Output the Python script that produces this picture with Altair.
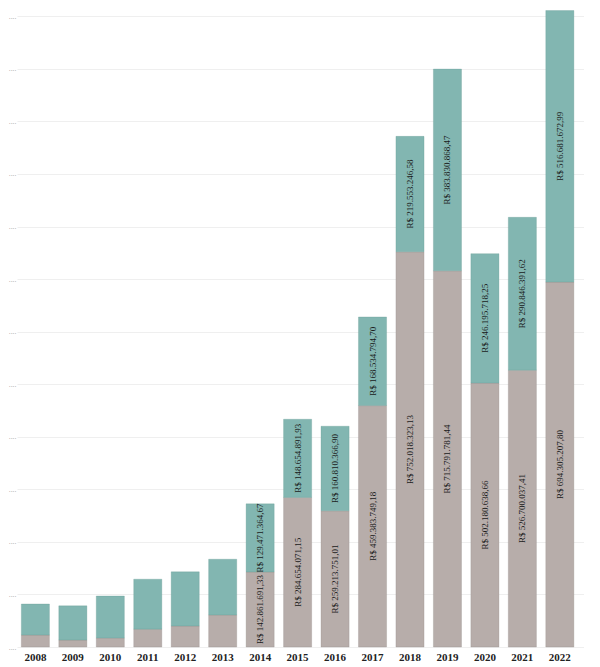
import altair as alt
import pandas as pd

years = ["2008", "2009", "2010", "2011", "2012", "2013", "2014", "2015",
         "2016", "2017", "2018", "2019", "2020", "2021", "2022"]
# bottom (gray) segment, R$
base_values = [22.8e6, 13.3e6, 17.0e6, 34.0e6, 40.0e6, 61.0e6,
               142861691.33, 284654071.15, 259213751.01, 459383749.18,
               752018323.13, 715791781.44, 502180638.66, 526700037.41,
               694305207.80]
# top (teal) segment, R$
top_values = [59.0e6, 65.0e6, 80.0e6, 95.0e6, 103.0e6, 106.0e6,
              129471364.67, 148654891.93, 160810366.90, 168534794.70,
              219553246.58, 383830868.47, 246195718.25, 290846391.62,
              516681672.99]
# which years carry value labels
labelled = [False] * 6 + [True] * 9
y_ticks = [i * 100e6 for i in range(13)]


def brl(v):
    s = f"{v:,.2f}"
    s = s.replace(",", "X").replace(".", ",").replace("X", ".")
    return "R$ " + s


rows = []
for yr, b, t, lab in zip(years, base_values, top_values, labelled):
    rows.append({"year": yr, "seg": "base", "start": 0.0, "end": b,
                 "mid": b / 2, "label": brl(b) if lab else ""})
    rows.append({"year": yr, "seg": "top", "start": b, "end": b + t,
                 "mid": b + t / 2, "label": brl(t) if lab else ""})
df = pd.DataFrame(rows)

x_scale = alt.Scale(paddingInner=0.25, paddingOuter=0.193, align=0.3)
y_scale = alt.Scale(domain=[0, 1212e6], nice=False, zero=True)

x_axis = alt.Axis(labelAngle=0, ticks=False, domain=False, grid=False,
                  labelFont="Liberation Serif", labelFontWeight="bold",
                  labelFontSize=11, labelColor="#222222", labelPadding=4)
y_axis = alt.Axis(values=y_ticks, labelExpr="'....'", labelFontSize=7,
                  labelColor="#9a9a9a", labelPadding=1, ticks=False,
                  domain=False, gridColor="#efefef", gridWidth=1)

bars = alt.Chart(df).mark_bar(strokeWidth=0.8, strokeOpacity=0.35).encode(
    x=alt.X("year:N", sort=years, title=None, scale=x_scale, axis=x_axis),
    y=alt.Y("start:Q", title=None, scale=y_scale, axis=y_axis),
    y2="end:Q",
    color=alt.Color("seg:N", legend=None,
                    scale=alt.Scale(domain=["base", "top"],
                                    range=["#b7adaa", "#82b6b1"])),
    stroke=alt.Stroke("seg:N", legend=None,
                      scale=alt.Scale(domain=["base", "top"],
                                      range=["#8f8582", "#5e948f"])),
)

labels = alt.Chart(df).mark_text(angle=270, align="center", baseline="middle",
                                 font="Liberation Serif", fontSize=9,
                                 color="#1a1a1a").encode(
    x=alt.X("year:N", sort=years, title=None, scale=x_scale, axis=x_axis),
    y=alt.Y("mid:Q", title=None, scale=y_scale, axis=y_axis),
    text="label:N",
)

chart = alt.layer(bars, labels).properties(
    width=567, height=637, background="white",
    padding={"left": 0, "top": 2, "right": 0, "bottom": 0},
).configure_view(stroke=None)

chart.save("out.html", embed_options={"renderer": "svg", "actions": False})
